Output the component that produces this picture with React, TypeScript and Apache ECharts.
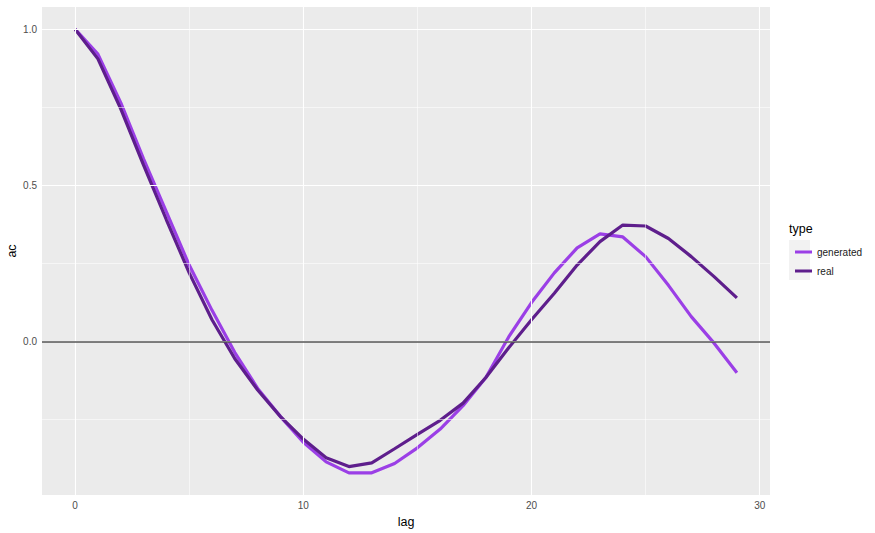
import React, { useEffect, useRef } from "react";
import * as echarts from "echarts";

const lags = Array.from({ length: 30 }, (_, i) => i);
const generated = [
  1.0, 0.92, 0.765, 0.585, 0.415, 0.245, 0.1, -0.035, -0.15, -0.24, -0.322, -0.385, -0.42, -0.42,
  -0.39, -0.34, -0.28, -0.205, -0.115, 0.015, 0.125, 0.22, 0.3, 0.345, 0.335, 0.272, 0.18, 0.08,
  -0.005, -0.1,
];
const real = [
  1.0, 0.905, 0.745, 0.565, 0.39, 0.22, 0.07, -0.055, -0.155, -0.24, -0.312, -0.372, -0.4, -0.388,
  -0.343, -0.297, -0.252, -0.197, -0.115, -0.02, 0.07, 0.155, 0.245, 0.32, 0.373, 0.37, 0.33, 0.272,
  0.208, 0.14,
];
const xMajor = [0, 10, 20, 30];
const xMinor = [5, 15, 25];
const yMajor = [0, 0.5, 1.0];
const yMinor = [-0.25, 0.25, 0.75];

export default function App() {
  const ref = useRef<HTMLDivElement>(null);
  useEffect(() => {
    document.body.style.margin = "0";
    const chart = echarts.init(ref.current!, null, { renderer: "svg" });
    const font = "'Liberation Sans', Arial, sans-serif";
    const gridLine = (w: number) => ({ color: "#ffffff", width: w, type: "solid" as const });
    chart.setOption({
      animation: false,
      grid: {
        left: 42,
        right: 105,
        top: 7,
        bottom: 38,
        containLabel: false,
        outerBoundsMode: "none",
        show: true,
        backgroundColor: "#EBEBEB",
        borderWidth: 0,
      },
      xAxis: {
        type: "value",
        min: -1.45,
        max: 30.45,
        name: "lag",
        nameLocation: "middle",
        nameGap: 20,
        nameTextStyle: { color: "#000", fontSize: 12.5, fontFamily: font },
        axisLine: { show: false },
        splitLine: { show: false },
        axisTick: { show: true, length: 3, lineStyle: { color: "#333", width: 1 }, customValues: xMajor },
        axisLabel: {
          color: "#4D4D4D",
          fontSize: 10,
          fontFamily: font,
          margin: 5,
          customValues: xMajor,
          formatter: (v: number) => String(v),
        },
      },
      yAxis: {
        type: "value",
        min: -0.491,
        max: 1.071,
        name: "ac",
        nameLocation: "middle",
        nameGap: 24,
        nameMoveOverlap: false,
        nameRotate: 90,
        nameTextStyle: { color: "#000", fontSize: 12.5, fontFamily: font },
        axisLine: { show: false },
        splitLine: { show: false },
        axisTick: { show: true, length: 3, lineStyle: { color: "#333", width: 1 }, customValues: yMajor },
        axisLabel: {
          color: "#4D4D4D",
          fontSize: 10,
          fontFamily: font,
          margin: 5,
          customValues: yMajor,
          formatter: (v: number) => v.toFixed(1),
        },
      },
      legend: {
        orient: "vertical",
        left: 790,
        top: 242,
        itemWidth: 17,
        itemHeight: 3,
        itemGap: 9,
        icon: "rect",
        data: ["generated", "real"],
        textStyle: { color: "#1A1A1A", fontSize: 10, fontFamily: font },
      },
      graphic: [
        { type: "rect", left: 789, top: 240, shape: { width: 21, height: 40 }, style: { fill: "#F2F2F2" }, z: -1 },
        { type: "text", left: 789, top: 222, style: { text: "type", fill: "#000", fontSize: 12.5, fontFamily: font } },
      ],
      series: [
        {
          type: "line",
          name: "grid",
          data: [],
          silent: true,
          z: 1,
          markLine: {
            silent: true,
            symbol: "none",
            label: { show: false },
            animation: false,
            data: [
              ...xMinor.map((v) => ({ xAxis: v, lineStyle: gridLine(0.55) })),
              ...yMinor.map((v) => ({ yAxis: v, lineStyle: gridLine(0.55) })),
              ...xMajor.map((v) => ({ xAxis: v, lineStyle: gridLine(1.1) })),
              ...yMajor.map((v) => ({ yAxis: v, lineStyle: gridLine(1.1) })),
              { yAxis: 0, lineStyle: { color: "#555555", width: 1.5, type: "solid" } },
            ],
          },
        },
        {
          type: "line",
          name: "generated",
          data: lags.map((l, i) => [l, generated[i]]),
          showSymbol: false,
          z: 3,
          color: "#9B3FE6",
          lineStyle: { color: "#9B3FE6", width: 3.2 },
        },
        {
          type: "line",
          name: "real",
          data: lags.map((l, i) => [l, real[i]]),
          showSymbol: false,
          z: 4,
          color: "#5E1E8C",
          lineStyle: { color: "#5E1E8C", width: 3.2 },
        },
      ],
    });
    return () => chart.dispose();
  }, []);
  return <div ref={ref} style={{ width: 875, height: 533 }} />;
}
